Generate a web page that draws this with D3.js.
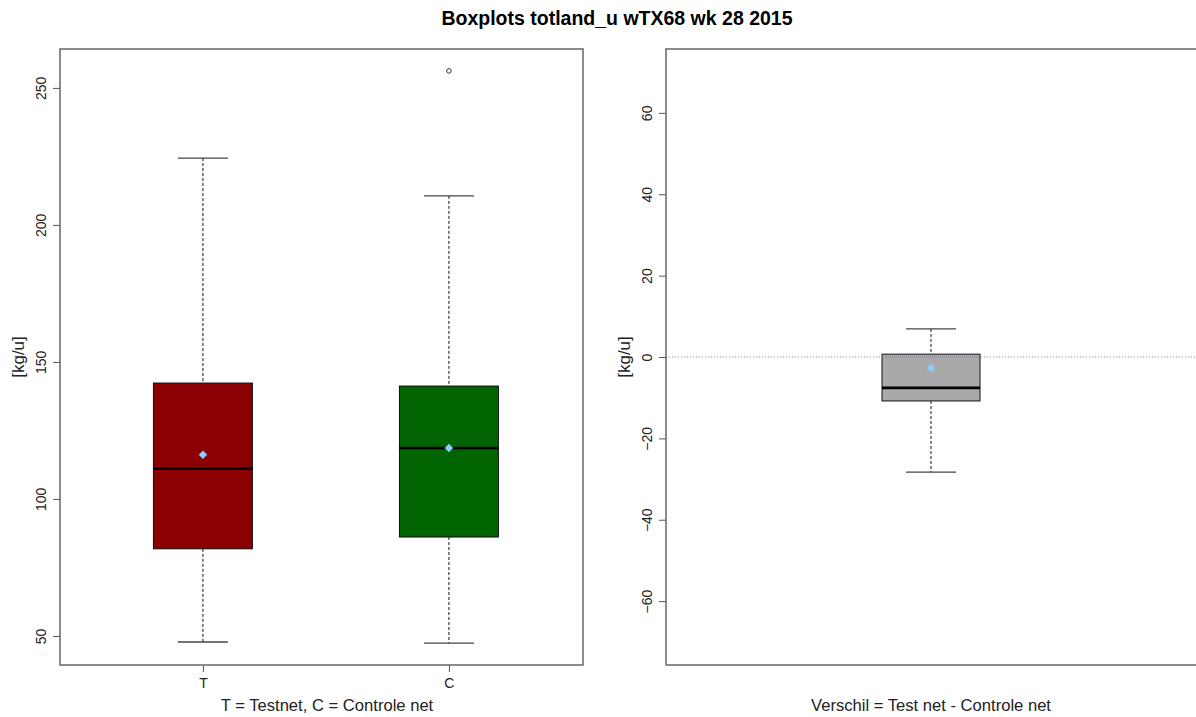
<!DOCTYPE html>
<html><head><meta charset="utf-8">
<script src="https://cdn.jsdelivr.net/npm/d3@7"></script>
<style>body{margin:0;background:#fff}svg{display:block}text{font-family:"Liberation Sans",Arial,sans-serif}</style>
</head><body><svg id="c" width="1196" height="717"></svg>
<script>
const title = "Boxplots totland_u wTX68 wk 28 2015";
const groups = ["T", "C"];
const groupColors = ["#8b0000", "#006400"];
// [lowerWhisker, Q1, median, Q3, upperWhisker]
const groupStats = [[47.8, 81.8, 111.0, 142.3, 224.4], [47.4, 86.1, 118.6, 141.2, 210.6]];
const groupMeans = [116.1, 118.6];
const groupOutliers = [[], [256.2]];
const leftTicks = [50, 100, 150, 200, 250];
const diffStats = [-28.3, -10.8, -7.6, 0.7, 6.9];
const diffMean = -2.7;
const diffColor = "#a9a9a9";
const rightTicks = [-60, -40, -20, 0, 20, 40, 60];
const yLabel = "[kg/u]";
const leftXLabel = "T = Testnet, C = Controle net";
const rightXLabel = "Verschil = Test net - Controle net";

const svg = d3.select("#c");
svg.append("text").attr("x", 617).attr("y", 25).attr("text-anchor", "middle")
  .attr("font-weight", "bold").attr("font-size", 19.5).text(title);

function panel(x0, x1, y0, y1, ydom, ticks) {
  const g = svg.append("g");
  const y = d3.scaleLinear().domain(ydom).range([y1, y0]);
  const ax = g.append("g").attr("transform", `translate(${x0},0)`)
    .call(d3.axisLeft(y).tickValues(ticks).tickSize(7).tickSizeOuter(0).tickFormat(d3.format("d")));
  ax.select(".domain").remove();
  ax.selectAll(".tick line").attr("stroke", "#555");
  ax.selectAll(".tick text").attr("font-size", 14).attr("fill", "#222")
    .attr("text-anchor", "middle").attr("x", 0).attr("dx", 0).attr("dy", 0)
    .attr("transform", "translate(-14,0) rotate(-90)");
  return {g, y};
}

function box(g, y, cx, halfW, capHalf, s, color, mean, outliers) {
  g.append("line").attr("x1", cx).attr("x2", cx).attr("y1", y(s[4])).attr("y2", y(s[3]))
    .attr("stroke", "#111").attr("stroke-dasharray", "3,2");
  g.append("line").attr("x1", cx).attr("x2", cx).attr("y1", y(s[1])).attr("y2", y(s[0]))
    .attr("stroke", "#111").attr("stroke-dasharray", "3,2");
  [s[0], s[4]].forEach(v => g.append("line").attr("x1", cx - capHalf).attr("x2", cx + capHalf)
    .attr("y1", y(v)).attr("y2", y(v)).attr("stroke", "#444").attr("stroke-width", 1.3));
  g.append("rect").attr("x", cx - halfW).attr("width", 2 * halfW)
    .attr("y", y(s[3])).attr("height", y(s[1]) - y(s[3]))
    .attr("fill", color).attr("stroke", "#111").attr("stroke-width", 1);
  g.append("line").attr("x1", cx - halfW).attr("x2", cx + halfW).attr("y1", y(s[2])).attr("y2", y(s[2]))
    .attr("stroke", "#000").attr("stroke-width", 2.6);
  g.append("path").attr("d", d3.symbol(d3.symbolSquare, 36)())
    .attr("transform", `translate(${cx},${y(mean)}) rotate(45)`).attr("fill", "#87cefa");
  outliers.forEach(v => g.append("circle").attr("cx", cx).attr("cy", y(v)).attr("r", 2.3)
    .attr("fill", "none").attr("stroke", "#333").attr("stroke-width", 1));
}

// Left panel
const L = panel(60, 583, 49, 665, [39.4, 264.2], leftTicks);
const xL = d3.scaleLinear().domain([0.419, 2.545]).range([60, 583]);
groups.forEach((gname, i) => {
  box(L.g, L.y, xL(i + 1), 49.5, 25, groupStats[i], groupColors[i], groupMeans[i], groupOutliers[i]);
});
const xa = L.g.append("g").attr("transform", "translate(0,665)")
  .call(d3.axisBottom(xL).tickValues([1, 2]).tickSize(7).tickSizeOuter(0).tickFormat((d, i) => groups[i]));
xa.select(".domain").remove();
xa.selectAll(".tick line").attr("stroke", "#555");
xa.selectAll(".tick text").attr("font-size", 14).attr("fill", "#222").attr("dy", "0.95em");
L.g.append("rect").attr("x", 60).attr("y", 49).attr("width", 523).attr("height", 616)
  .attr("fill", "none").attr("stroke", "#666").attr("stroke-width", 1.5);
svg.append("text").attr("transform", "translate(24,357) rotate(-90)").attr("text-anchor", "middle")
  .attr("font-size", 17).attr("fill", "#222").text(yLabel);
svg.append("text").attr("x", 327).attr("y", 711).attr("text-anchor", "middle")
  .attr("font-size", 16.6).attr("fill", "#222").text(leftXLabel);

// Right panel
const R = panel(666, 1210, 49, 665, [-75.7, 75.7], rightTicks);
R.g.append("line").attr("x1", 666).attr("x2", 1196).attr("y1", R.y(0)).attr("y2", R.y(0))
  .attr("stroke", "#8a8fa0").attr("stroke-width", 1).attr("stroke-dasharray", "1,2");
box(R.g, R.y, 931, 49, 25, diffStats, diffColor, diffMean, []);
R.g.append("line").attr("x1", 931 - 49).attr("x2", 931 + 49).attr("y1", R.y(0)).attr("y2", R.y(0))
  .attr("stroke", "#7a7f95").attr("stroke-width", 1).attr("stroke-dasharray", "1,1");
R.g.append("rect").attr("x", 666).attr("y", 49).attr("width", 560).attr("height", 616)
  .attr("fill", "none").attr("stroke", "#666").attr("stroke-width", 1.5);
svg.append("text").attr("transform", "translate(630,357) rotate(-90)").attr("text-anchor", "middle")
  .attr("font-size", 17).attr("fill", "#222").text(yLabel);
svg.append("text").attr("x", 931).attr("y", 711).attr("text-anchor", "middle")
  .attr("font-size", 16.6).attr("fill", "#222").text(rightXLabel);
</script></body></html>
